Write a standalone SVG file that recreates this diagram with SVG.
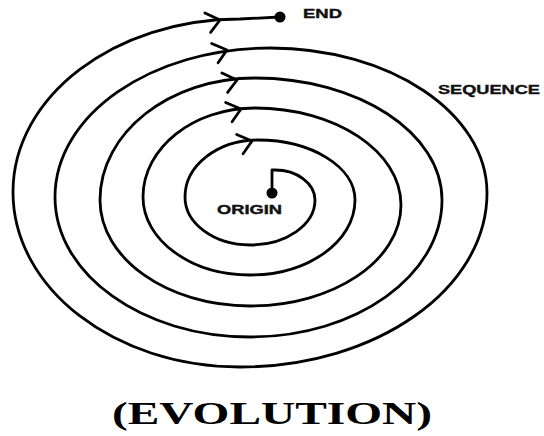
<svg xmlns="http://www.w3.org/2000/svg" width="544" height="436" viewBox="0 0 544 436">
<style>
.line{fill:none;stroke:#000;stroke-width:2.8;stroke-linecap:round;stroke-linejoin:round}
.lbl{font-family:"Liberation Sans",Arial,sans-serif;font-weight:bold;fill:#111;stroke:#111;stroke-width:0.4}
.title{font-family:"Liberation Serif","Times New Roman",serif;font-weight:bold;fill:#000}
</style>
<defs>
<path id="chev" d="M-14,-9 L0,0 L-11,11" class="line"/>
</defs>
<rect width="544" height="436" fill="#fff"/>
<g id="connectors">
<path class="line" d="M272,193 L272,170 L275,170
C297,170 315,183.4 315,200
C315,224.8 285.9,245 250,245
C214.1,245 185,223.5 185,197
C185,165.5 217.7,140 258,140
C311.5,140 355,166.9 355,200
C355,241.4 308,275 250,275
C190.9,275 143,240.1 143,197
C143,147.9 193.2,108 255,108
C335.6,108 401,151.5 401,205
C401,260.8 333.4,306 250,306
C167.2,306 100,258.5 100,200
C100,132.7 169.4,78 255,78
C358.2,78 442,132.7 442,200
C442,275.6 356,337 250,337
C142.4,337 55,274.3 55,197
C55,114.8 151.3,48 270,48
C389.8,48 487,112.96 487,193
C487,289 376.3,367 240,367
C114.7,367 13,288.6 13,192
C13,96.5 114.7,19 240,19
L280,17"/>
<use href="#chev" transform="translate(220,20) rotate(-8)"/>
<use href="#chev" transform="translate(227,50) rotate(-10)"/>
<use href="#chev" transform="translate(237,80) rotate(-8)"/>
<use href="#chev" transform="translate(241,109) rotate(-10)"/>
<use href="#chev" transform="translate(252,141) rotate(-10)"/>
</g>
<g id="origin">
<circle cx="272" cy="193" r="5.5" fill="#000"/>
<text class="lbl" x="217" y="213.5" font-size="12.5" textLength="65" lengthAdjust="spacingAndGlyphs">ORIGIN</text>
</g>
<g id="end">
<circle cx="280" cy="17" r="5.5" fill="#000"/>
<text class="lbl" x="303" y="18" font-size="12.5" textLength="39" lengthAdjust="spacingAndGlyphs">END</text>
</g>
<g id="sequence">
<text class="lbl" x="438" y="94" font-size="13.5" textLength="102" lengthAdjust="spacingAndGlyphs">SEQUENCE</text>
</g>
<g id="title">
<text class="title" x="112" y="424" font-size="31" textLength="320" lengthAdjust="spacingAndGlyphs">(EVOLUTION)</text>
</g>
</svg>
